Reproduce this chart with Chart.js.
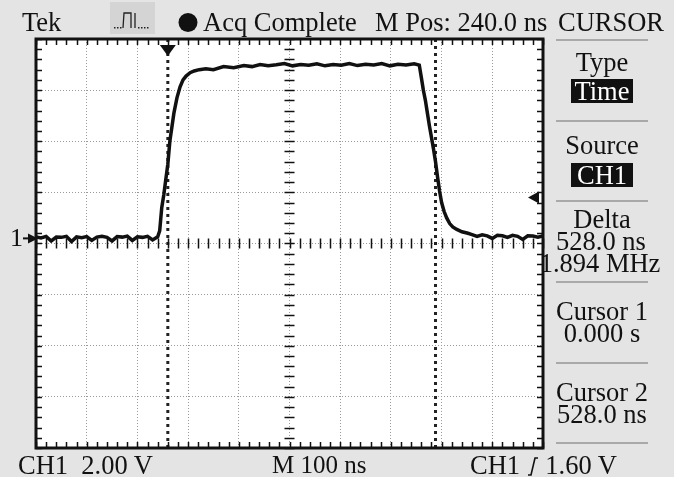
<!DOCTYPE html>
<html>
<head>
<meta charset="utf-8">
<script src="https://cdn.jsdelivr.net/npm/chart.js@4"></script>
<style>
body { margin: 0; background: #e4e4e4; }
#scope { position: relative; width: 674px; height: 477px; background: #e4e4e4; overflow: hidden;
         font-family: "Liberation Serif", "Times New Roman", serif; color: #111; }
#scope canvas { position: absolute; left: 0; top: 0; }
.t { position: absolute; font-size: 26.5px; line-height: 24px; white-space: pre; }
.c { width: 130px; margin-left: -65px; text-align: center; }
.box { position: absolute; left: 571px; width: 62px; height: 24px; background: #111; color: #fff;
       font-size: 26.5px; line-height: 24px; text-align: center; }
.sep { position: absolute; left: 556px; width: 92px; height: 2px; background: #a9a9a9; }
</style>
</head>
<body>
<div id="scope">
  <canvas id="scope-chart" width="674" height="477"></canvas>

  <div class="t" style="left:22px;top:10px">Tek</div>
  <div class="t" style="left:203px;top:10px">Acq Complete</div>
  <div class="t" style="left:375px;top:10px">M Pos: 240.0 ns</div>
  <div class="t" style="left:558px;top:10px">CURSOR</div>

  <div class="sep" style="top:39px"></div>
  <div class="t c" style="left:602px;top:50px">Type</div>
  <div class="box" style="top:79px">Time</div>
  <div class="sep" style="top:120px"></div>
  <div class="t c" style="left:602px;top:133px">Source</div>
  <div class="box" style="top:163px">CH1</div>
  <div class="sep" style="top:200px"></div>
  <div class="t c" style="left:602px;top:207px">Delta</div>
  <div class="t c" style="left:601px;top:229px">528.0 ns</div>
  <div class="t c" style="left:600px;top:251px">1.894 MHz</div>
  <div class="sep" style="top:281px"></div>
  <div class="t c" style="left:602px;top:299px">Cursor 1</div>
  <div class="t c" style="left:602px;top:321px">0.000 s</div>
  <div class="sep" style="top:362px"></div>
  <div class="t c" style="left:602px;top:380px">Cursor 2</div>
  <div class="t c" style="left:602px;top:402px">528.0 ns</div>
  <div class="sep" style="top:442px"></div>

  <div class="t" style="left:18px;top:453px">CH1  2.00 V</div>
  <div class="t" style="left:272px;top:453px;font-size:25px">M 100 ns</div>
  <div class="t" style="left:470px;top:453px">CH1 <svg width="12" height="20" style="vertical-align:-2px"><polyline points="1,19 4,19 8,2 11,2" fill="none" stroke="#111" stroke-width="1.6"/></svg> 1.60 V</div>
</div>

<script>
// CH1 trace (time in ns, volts)
const timeNs = [-260, -250, -240, -230, -220, -210, -200, -190, -180, -170, -160, -150, -140,
    -130, -120, -110, -100, -90, -80, -70, -60, -50, -40, -30, -20,
    -16, -12, -8, -4, 0, 4, 8, 12, 18, 24, 30, 36, 44, 52, 62, 75, 90, 110, 130, 150,
    166, 182, 198, 214, 230, 246, 262, 278, 294, 310, 326, 342, 358, 374, 390, 406, 422, 438,
    454, 470, 486, 496,
    500, 504, 508, 512, 516, 520, 524, 528, 532, 536, 540, 545, 550, 556, 562, 570, 580, 592,
    600, 610, 620, 630, 640, 650, 660, 670, 680, 690, 700, 710, 720, 730, 740]
const ch1Volts = [0.06, 0.02, 0.08, -0.1, 0.05, 0.04, 0.08, -0.12, 0.06, 0.03, 0.07, -0.08, 0.05,
    0.08, 0.04, -0.1, 0.07, 0.05, 0.09, -0.08, 0.06, 0.04, 0.08, -0.06, 0.06,
    0.3, 1.2, 1.7, 2.3, 2.9, 3.8, 4.35, 4.9, 5.5, 5.92, 6.2, 6.35, 6.48, 6.55, 6.6, 6.64, 6.6, 6.72, 6.68, 6.76,
    6.72, 6.8, 6.75, 6.79, 6.84, 6.75, 6.8, 6.77, 6.83, 6.75, 6.8, 6.77, 6.84, 6.76, 6.81, 6.78, 6.84, 6.75,
    6.81, 6.78, 6.83, 6.78,
    6.3, 5.8, 5.4, 4.9, 4.4, 3.95, 3.5, 3.0, 2.4, 1.85, 1.4, 1.05, 0.8, 0.58, 0.45, 0.35, 0.26, 0.2,
    0.15, 0.08, 0.14, 0.1, 0.0, 0.12, 0.1, 0.04, 0.12, 0.08, -0.04, 0.1, 0.09, 0.05, 0.1]

const cursorNs = [0, 528]
const triggerPosNs = 0
const triggerLevelV = 1.6
const groundV = 0

// 100 ns/div, M Pos 240 ns at centre; 2.00 V/div, ground 0.1 div above centre
const xRange = [-260, 740]
const yRange = [-8.2, 7.8]
const xDiv = 100
const yDiv = 2

function divTicks(range, step) {
    const out = []
    for (let v = range[0]; v <= range[1] + step / 100; v += step) out.push({ value: v })
    return out
}

const scopeDecor = {
    id: 'scopeDecor',
    beforeDraw(chart) {
        const { ctx, chartArea: a } = chart
        ctx.save()
        ctx.fillStyle = '#fff'
        ctx.fillRect(a.left, a.top, a.right - a.left, a.bottom - a.top)
        ctx.restore()
    },
    afterDraw(chart) {
        const { ctx, chartArea: a, scales: { x, y } } = chart
        const cx = x.getPixelForValue((xRange[0] + xRange[1]) / 2)
        const cy = y.getPixelForValue((yRange[0] + yRange[1]) / 2)
        ctx.save()
        ctx.strokeStyle = '#111'
        ctx.fillStyle = '#111'

        // small ticks every 1/5 division, on the frame and on the centre lines
        ctx.lineWidth = 1.5
        ctx.beginPath()
        for (const t of divTicks(xRange, xDiv / 5)) {
            const px = Math.round(x.getPixelForValue(t.value)) + 0.5
            ctx.moveTo(px, a.top); ctx.lineTo(px, a.top + 6)
            ctx.moveTo(px, a.bottom); ctx.lineTo(px, a.bottom - 6)
            ctx.moveTo(px, cy - 5); ctx.lineTo(px, cy + 5)
        }
        for (const t of divTicks(yRange, yDiv / 5)) {
            const py = Math.round(y.getPixelForValue(t.value)) + 0.5
            ctx.moveTo(a.left, py); ctx.lineTo(a.left + 6, py)
            ctx.moveTo(a.right, py); ctx.lineTo(a.right - 6, py)
            ctx.moveTo(cx - 5, py); ctx.lineTo(cx + 5, py)
        }
        ctx.stroke()

        // frame
        ctx.lineWidth = 3
        ctx.strokeRect(a.left, a.top, a.right - a.left, a.bottom - a.top)

        // trigger position marker
        const tx = x.getPixelForValue(triggerPosNs)
        ctx.beginPath()
        ctx.moveTo(tx - 8, a.top + 6); ctx.lineTo(tx + 8, a.top + 6); ctx.lineTo(tx, a.top + 17)
        ctx.fill()

        // trigger level marker
        const ly = y.getPixelForValue(triggerLevelV)
        ctx.beginPath()
        ctx.moveTo(a.right - 15, ly); ctx.lineTo(a.right - 4, ly - 6); ctx.lineTo(a.right - 4, ly + 6)
        ctx.fill()

        // ground marker "1->"
        const gy = y.getPixelForValue(groundV)
        ctx.font = '26px "Liberation Serif"'
        ctx.textBaseline = 'middle'
        ctx.fillText('1', 10, gy + 1)
        ctx.lineWidth = 2
        ctx.beginPath(); ctx.moveTo(23, gy); ctx.lineTo(a.left - 6, gy); ctx.stroke()
        ctx.beginPath()
        ctx.moveTo(a.left + 2, gy); ctx.lineTo(a.left - 8, gy - 5); ctx.lineTo(a.left - 8, gy + 5)
        ctx.fill()

        // acquisition icon and run-state dot in the header
        ctx.beginPath()
        ctx.arc(188, 22.5, 9.5, 0, Math.PI * 2)
        ctx.fill()
        ctx.fillStyle = '#d4d4d4'
        ctx.fillRect(110, 2, 45, 32)
        ctx.strokeStyle = '#222'
        ctx.lineWidth = 1.3
        ctx.beginPath()
        ctx.moveTo(123, 28); ctx.lineTo(124, 13); ctx.lineTo(131, 13); ctx.lineTo(131, 28)
        ctx.moveTo(135, 13); ctx.lineTo(135, 28)
        ctx.stroke()
        ctx.fillStyle = '#222'
        for (const dx of [114, 117, 120, 138, 141, 144, 147]) ctx.fillRect(dx, 27, 1.5, 1.5)
        ctx.restore()
    }
}

document.addEventListener("DOMContentLoaded", function () {
    const ctx = document.getElementById('scope-chart').getContext('2d')

    const datasets = [{
        label: 'CH1',
        data: timeNs.map((t, i) => ({ x: t, y: ch1Volts[i] })),
        borderColor: '#111',
        borderWidth: 3.5,
        pointRadius: 0,
        tension: 0,
        order: 0
    }]
    for (const c of cursorNs) {
        datasets.push({
            label: 'cursor ' + c,
            data: [{ x: c, y: yRange[0] }, { x: c, y: yRange[1] }],
            borderColor: '#222',
            borderWidth: 3,
            borderDash: [3, 4],
            pointRadius: 0,
            order: 1
        })
    }

    const gridOpts = { color: '#9a9a9a', lineWidth: 1, drawTicks: false }
    new Chart(ctx, {
        type: 'line',
        data: { datasets: datasets },
        options: {
            responsive: false,
            animation: false,
            events: [],
            layout: { padding: { left: 36, top: 39, right: 131, bottom: 29 } },
            plugins: { legend: { display: false }, tooltip: { enabled: false } },
            scales: {
                x: {
                    type: 'linear', min: xRange[0], max: xRange[1],
                    ticks: { display: false },
                    grid: gridOpts,
                    border: { display: false, dash: [1, 2] },
                    afterBuildTicks: s => { s.ticks = divTicks(xRange, xDiv) }
                },
                y: {
                    type: 'linear', min: yRange[0], max: yRange[1],
                    ticks: { display: false },
                    grid: gridOpts,
                    border: { display: false, dash: [1, 2] },
                    afterBuildTicks: s => { s.ticks = divTicks(yRange, yDiv) }
                }
            }
        },
        plugins: [scopeDecor]
    })
})
</script>
</body>
</html>
